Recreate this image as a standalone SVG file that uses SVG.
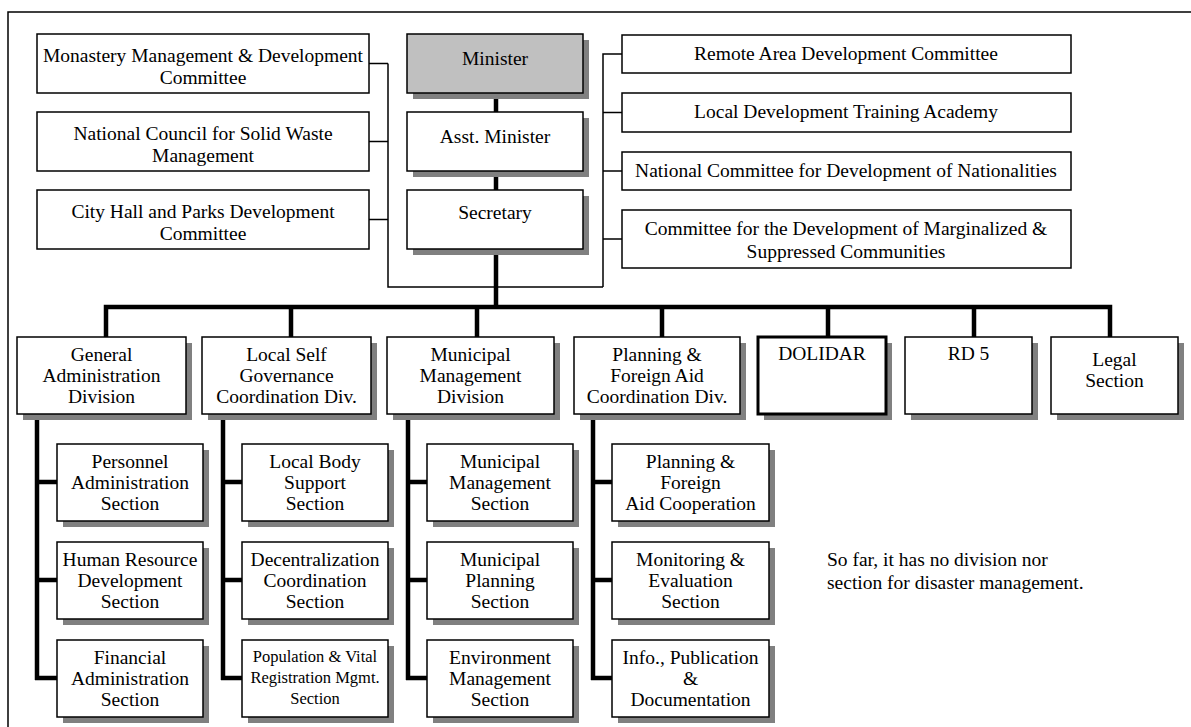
<svg xmlns="http://www.w3.org/2000/svg" width="1191" height="727" viewBox="0 0 1191 727">
  <style>
    .box { fill: #ffffff; stroke: #000000; stroke-width: 1.5; }
    .bold { stroke-width: 3; }
    .grey { fill: #c0c0c0; }
    .shadow { fill: #808080; stroke: none; }
    .thin { fill: none; stroke: #000000; stroke-width: 1.5; }
    .thick { fill: none; stroke: #000000; stroke-width: 4.5; }
    text { font-family: "Liberation Serif", "Times New Roman", serif; font-size: 19.5px; fill: #000000; text-anchor: middle; }
    .small { font-size: 16.5px; }
    .note { text-anchor: start; }
  </style>

  <rect width="1191" height="727" fill="#ffffff"/>
  <!-- page frame (left and top edges) -->
  <path class="thin" d="M8,727 V12 H1191"/>

  <!-- connectors -->
  <g id="connectors">
    <!-- advisory committees on the left -->
    <path class="thin" d="M369,63.5 H388 M369,141.5 H388 M369,219.5 H388 M388,63.5 V287 H603"/>
    <!-- committees on the right -->
    <path class="thin" d="M603,287 V54 H622 M603,112.5 H622 M603,171 H622 M603,239 H622"/>
    <!-- chain of command -->
    <path class="thick" d="M496,93 V112 M496,171 V190 M496,249 V307"/>
    <!-- division bus -->
    <path class="thick" d="M106,337 V307 H1110 V337 M291,307 V337 M477,307 V337 M662,307 V337 M828,307 V337 M974,307 V337"/>
    <!-- section trunks -->
    <path class="thick" d="M37,414 V680 M35,482 H57 M35,580 H57 M35,678 H57"/>
    <path class="thick" d="M223,414 V680 M221,482 H242 M221,580 H242 M221,678 H242"/>
    <path class="thick" d="M408,414 V680 M406,482 H427 M406,580 H427 M406,678 H427"/>
    <path class="thick" d="M593,414 V680 M591,482 H612 M591,580 H612 M591,678 H612"/>
  </g>

  <!-- left committees -->
  <g id="monastery">
    <rect class="box" x="37" y="34" width="332" height="59"/>
    <text x="203" y="62">Monastery Management &amp; Development</text>
    <text x="203" y="84">Committee</text>
  </g>
  <g id="solid-waste">
    <rect class="box" x="37" y="112" width="332" height="59"/>
    <text x="203" y="140">National Council for Solid Waste</text>
    <text x="203" y="162">Management</text>
  </g>
  <g id="city-hall">
    <rect class="box" x="37" y="190" width="332" height="59"/>
    <text x="203" y="218">City Hall and Parks Development</text>
    <text x="203" y="240">Committee</text>
  </g>

  <!-- central chain -->
  <g id="minister">
    <rect class="shadow" x="413" y="40" width="176" height="59"/>
    <rect class="box grey" x="407" y="34" width="176" height="59"/>
    <text x="495" y="65">Minister</text>
  </g>
  <g id="asst-minister">
    <rect class="shadow" x="413" y="118" width="176" height="59"/>
    <rect class="box" x="407" y="112" width="176" height="59"/>
    <text x="495" y="143">Asst. Minister</text>
  </g>
  <g id="secretary">
    <rect class="shadow" x="413" y="196" width="176" height="59"/>
    <rect class="box" x="407" y="190" width="176" height="59"/>
    <text x="495" y="219">Secretary</text>
  </g>

  <!-- right committees -->
  <g id="remote-area">
    <rect class="box" x="622" y="35" width="449" height="38"/>
    <text x="846" y="60">Remote Area Development Committee</text>
  </g>
  <g id="training-academy">
    <rect class="box" x="622" y="93" width="449" height="39"/>
    <text x="846" y="118">Local Development Training Academy</text>
  </g>
  <g id="nationalities">
    <rect class="box" x="622" y="152" width="449" height="38"/>
    <text x="846" y="177">National Committee for Development of Nationalities</text>
  </g>
  <g id="marginalized">
    <rect class="box" x="622" y="210" width="449" height="58"/>
    <text x="846" y="235">Committee for the Development of Marginalized &amp;</text>
    <text x="846" y="258">Suppressed Communities</text>
  </g>

  <!-- divisions -->
  <g id="general-admin">
    <rect class="shadow" x="23" y="343" width="169" height="77"/>
    <rect class="box" x="17" y="337" width="169" height="77"/>
    <text x="101.5" y="361">General</text>
    <text x="101.5" y="382">Administration</text>
    <text x="101.5" y="403">Division</text>
  </g>
  <g id="local-self-governance">
    <rect class="shadow" x="208" y="343" width="169" height="77"/>
    <rect class="box" x="202" y="337" width="169" height="77"/>
    <text x="286.5" y="361">Local Self</text>
    <text x="286.5" y="382">Governance</text>
    <text x="286.5" y="403">Coordination Div.</text>
  </g>
  <g id="municipal-management">
    <rect class="shadow" x="393" y="343" width="167" height="77"/>
    <rect class="box" x="387" y="337" width="167" height="77"/>
    <text x="470.5" y="361">Municipal</text>
    <text x="470.5" y="382">Management</text>
    <text x="470.5" y="403">Division</text>
  </g>
  <g id="planning-foreign-aid">
    <rect class="shadow" x="580" y="343" width="166" height="77"/>
    <rect class="box" x="574" y="337" width="166" height="77"/>
    <text x="657" y="361">Planning &amp;</text>
    <text x="657" y="382">Foreign Aid</text>
    <text x="657" y="403">Coordination Div.</text>
  </g>
  <g id="dolidar">
    <rect class="shadow" x="764" y="343" width="128" height="77"/>
    <rect class="box bold" x="758" y="337" width="128" height="77"/>
    <text x="822" y="360">DOLIDAR</text>
  </g>
  <g id="rd5">
    <rect class="shadow" x="911" y="343" width="127" height="77"/>
    <rect class="box" x="905" y="337" width="127" height="77"/>
    <text x="968.5" y="360">RD 5</text>
  </g>
  <g id="legal">
    <rect class="shadow" x="1057" y="343" width="127" height="77"/>
    <rect class="box" x="1051" y="337" width="127" height="77"/>
    <text x="1114.5" y="366">Legal</text>
    <text x="1114.5" y="387">Section</text>
  </g>

  <!-- sections: general administration -->
  <g id="personnel-admin">
    <rect class="shadow" x="63" y="450" width="146" height="77"/>
    <rect class="box" x="57" y="444" width="146" height="77"/>
    <text x="130" y="468">Personnel</text>
    <text x="130" y="489">Administration</text>
    <text x="130" y="510">Section</text>
  </g>
  <g id="hr-development">
    <rect class="shadow" x="63" y="548" width="146" height="77"/>
    <rect class="box" x="57" y="542" width="146" height="77"/>
    <text x="130" y="566">Human Resource</text>
    <text x="130" y="587">Development</text>
    <text x="130" y="608">Section</text>
  </g>
  <g id="financial-admin">
    <rect class="shadow" x="63" y="646" width="146" height="77"/>
    <rect class="box" x="57" y="640" width="146" height="77"/>
    <text x="130" y="664">Financial</text>
    <text x="130" y="685">Administration</text>
    <text x="130" y="706">Section</text>
  </g>

  <!-- sections: local self governance -->
  <g id="local-body-support">
    <rect class="shadow" x="248" y="450" width="146" height="77"/>
    <rect class="box" x="242" y="444" width="146" height="77"/>
    <text x="315" y="468">Local Body</text>
    <text x="315" y="489">Support</text>
    <text x="315" y="510">Section</text>
  </g>
  <g id="decentralization">
    <rect class="shadow" x="248" y="548" width="146" height="77"/>
    <rect class="box" x="242" y="542" width="146" height="77"/>
    <text x="315" y="566">Decentralization</text>
    <text x="315" y="587">Coordination</text>
    <text x="315" y="608">Section</text>
  </g>
  <g id="population-registration">
    <rect class="shadow" x="248" y="646" width="146" height="77"/>
    <rect class="box" x="242" y="640" width="146" height="77"/>
    <text class="small" x="315" y="662">Population &amp; Vital</text>
    <text class="small" x="315" y="683">Registration Mgmt.</text>
    <text class="small" x="315" y="704">Section</text>
  </g>

  <!-- sections: municipal management -->
  <g id="municipal-management-section">
    <rect class="shadow" x="433" y="450" width="146" height="77"/>
    <rect class="box" x="427" y="444" width="146" height="77"/>
    <text x="500" y="468">Municipal</text>
    <text x="500" y="489">Management</text>
    <text x="500" y="510">Section</text>
  </g>
  <g id="municipal-planning">
    <rect class="shadow" x="433" y="548" width="146" height="77"/>
    <rect class="box" x="427" y="542" width="146" height="77"/>
    <text x="500" y="566">Municipal</text>
    <text x="500" y="587">Planning</text>
    <text x="500" y="608">Section</text>
  </g>
  <g id="environment-management">
    <rect class="shadow" x="433" y="646" width="146" height="77"/>
    <rect class="box" x="427" y="640" width="146" height="77"/>
    <text x="500" y="664">Environment</text>
    <text x="500" y="685">Management</text>
    <text x="500" y="706">Section</text>
  </g>

  <!-- sections: planning and foreign aid -->
  <g id="foreign-aid-cooperation">
    <rect class="shadow" x="618" y="450" width="157" height="77"/>
    <rect class="box" x="612" y="444" width="157" height="77"/>
    <text x="690.5" y="468">Planning &amp;</text>
    <text x="690.5" y="489">Foreign</text>
    <text x="690.5" y="510">Aid Cooperation</text>
  </g>
  <g id="monitoring-evaluation">
    <rect class="shadow" x="618" y="548" width="157" height="77"/>
    <rect class="box" x="612" y="542" width="157" height="77"/>
    <text x="690.5" y="566">Monitoring &amp;</text>
    <text x="690.5" y="587">Evaluation</text>
    <text x="690.5" y="608">Section</text>
  </g>
  <g id="info-publication">
    <rect class="shadow" x="618" y="646" width="157" height="77"/>
    <rect class="box" x="612" y="640" width="157" height="77"/>
    <text x="690.5" y="664">Info., Publication</text>
    <text x="690.5" y="685">&amp;</text>
    <text x="690.5" y="706">Documentation</text>
  </g>

  <!-- remark -->
  <g id="remark">
    <text class="note" x="827" y="566">So far, it has no division nor</text>
    <text class="note" x="827" y="589">section for disaster management.</text>
  </g>
</svg>
